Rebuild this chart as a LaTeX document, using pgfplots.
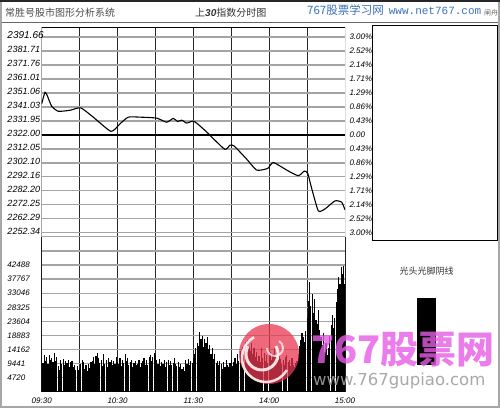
\documentclass[border=0pt]{standalone}
\usepackage{pgfplots}
\pgfplotsset{compat=1.18}
\usepackage{fontspec}
\setmainfont{Liberation Sans}
\newfontfamily\cjk{Noto Sans CJK SC}
\newfontfamily\mono{Liberation Mono}
\newfontfamily\dejavu{DejaVu Sans}
\definecolor{gridgray}{HTML}{A4A4A4}
\definecolor{wmblue}{HTML}{3A72B8}
\definecolor{wmpink}{HTML}{E65CE6}
\definecolor{logored}{HTML}{E8384F}
\begin{document}
\begin{tikzpicture}
\begin{scope}[x=1pt,y=1pt]
\useasboundingbox (0,0) rectangle (500,408);
\fill[white] (0,0) rectangle (500,408);
\draw[gray!70, line width=2pt] (1,1) rectangle (499,407);
\draw[black!85, line width=1.5pt] (0,407.2) -- (500,407.2);
\draw[gray!80!black, line width=1pt] (2,385.5) -- (498,385.5);
\node[anchor=west, inner sep=0pt, font=\cjk\fontsize{10}{12}\selectfont, text=black!70] at (5,395) {常胜号股市图形分析系统};
\node[anchor=west, inner sep=0pt, font=\fontsize{10}{12}\selectfont, text=black!80] at (195,395) {{\cjk 上}{\bfseries\itshape 30}{\cjk 指数分时图}};
\node[anchor=west, inner sep=0pt, font=\cjk\fontsize{7}{8}\selectfont, text=black!60] at (484,395) {闸舟};
\node[anchor=west, inner sep=0pt, text=wmblue] at (307,398) {{\cjk\fontsize{11.5}{12}\selectfont 767股票学习网}\hspace{5pt}{\mono\fontsize{11}{12}\selectfont www.net767.com}};
\draw[black, line width=0.8pt] (372.7,168) rectangle (497,382.3);
\node[inner sep=0pt, font=\cjk\fontsize{9}{10}\selectfont, text=black!80] at (426.5,137.3) {光头光脚阴线};
\end{scope}

% price panel
\begin{axis}[
  at={(41.7pt,171.3pt)}, anchor=south west, scale only axis,
  width=303.3pt, height=209pt,
  xmin=0, xmax=240, ymin=2249.49, ymax=2398.28,
  axis line style={draw=none},
  major tick length=0pt,
  grid=major,
  major x grid style={black!85, line width=0.8pt},
  major y grid style={gridgray, line width=1.4pt},
  xtick={30,60,...,210}, xticklabel=\empty,
  ytick={2252.34,2262.29,2272.24,2282.19,2292.14,2302.10,2312.05,2331.95,2341.90,2351.85,2361.80,2371.75,2381.70,2391.66},
  yticklabels={2252.34,2262.29,2272.25,2282.20,2292.16,2302.10,2312.05,2331.95,2341.03,2351.06,2361.01,2371.76,2381.71,{\fontsize{10}{12}\selectfont 2391.66}},
  extra y ticks={2322.00},
  extra y tick labels={2322.00},
  extra y tick style={major y grid style={black, line width=1.5pt}},
  yticklabel style={anchor=west, inner sep=0pt, xshift=-34.4pt, yshift=1.5pt, font=\fontsize{9}{10}\selectfont\itshape},
]
\addplot[black, line width=1.1pt, smooth, tension=0.35] coordinates {
(0,2344.1) (2.6,2352.3) (4.4,2349.9) (7.9,2342.4) (13.1,2338.8) (22.4,2339.5)
(30.9,2341.2) (40.8,2334.6) (54.8,2324.5) (62,2329.9) (68.5,2334.6) (77.8,2334.6)
(91,2333.9) (98.9,2331) (104.1,2333.7) (107.6,2331.5) (110.8,2332.5) (114.7,2330.4)
(119.5,2331.8) (122.6,2330.4) (130.6,2324) (135.8,2319.3) (145,2311.7) (149,2314.6)
(152.2,2314.1) (162.2,2304.7) (170.1,2296.9) (178.8,2298.1) (183.3,2302.3) (193.9,2296.9)
(203,2292.9) (207.8,2296.2) (210.5,2294.6) (213.6,2284) (218.9,2267.9) (224.2,2269.3)
(232.1,2275) (237.4,2274) (240,2268.6)};
\draw[black, line width=0.8pt] (rel axis cs:0,0) -- (rel axis cs:0,1) -- (rel axis cs:1,1) -- (rel axis cs:1,0);
\draw[gridgray, line width=1.4pt] (rel axis cs:0,0) -- (rel axis cs:1,0);
\end{axis}

% percent labels
\begin{axis}[
  at={(41.7pt,171.3pt)}, anchor=south west, scale only axis,
  width=303.3pt, height=209pt,
  xmin=0, xmax=240, ymin=2249.49, ymax=2398.28,
  axis line style={draw=none}, major tick length=0pt,
  xtick=\empty, yticklabel pos=right,
  ytick={2252.34,2262.29,2272.24,2282.19,2292.14,2302.10,2312.05,2322.00,2331.95,2341.90,2351.85,2361.80,2371.75,2381.70,2391.66},
  yticklabels={3.00\%,2.52\%,2.14\%,1.71\%,1.29\%,0.86\%,0.43\%,0.00,0.43\%,0.86\%,1.29\%,1.71\%,2.14\%,2.52\%,3.00\%},
  yticklabel style={anchor=west, inner sep=0pt, xshift=4.3pt, font=\fontsize{8}{9}\selectfont\itshape},
]
\end{axis}

% volume panel
\begin{axis}[
  at={(41.7pt,16.3pt)}, anchor=south west, scale only axis,
  width=303.3pt, height=155pt,
  xmin=0, xmax=240, ymin=0, ymax=52007,
  scaled y ticks=false,
  axis line style={draw=none},
  major tick length=0pt,
  grid=major,
  major x grid style={black!85, line width=0.8pt},
  major y grid style={gridgray, line width=1.4pt},
  xtick={0,30,...,240},
  xticklabels={09:30,,10:30,,11:30,,{14:00\hspace{4pt}},,{15:00\hspace{14pt}}},
  xticklabel style={anchor=north, inner sep=0pt, yshift=-6pt, font=\fontsize{8}{9}\selectfont\itshape},
  ytick={4720.9,9441.8,14162.7,18883.6,23604.5,28325.4,33046.3,37767.2,42488.1,47209},
  yticklabels={4720,9441,14162,18883,23604,28325,33046,37767,42488,{}},
  yticklabel style={anchor=west, inner sep=0pt, xshift=-34.4pt, font=\fontsize{8}{9}\selectfont\itshape},
]
\addplot[ycomb, black, line width=1.15pt, mark=none] coordinates {
(0,11800)(1,9600)(2,12200)(3,10400)(4,11600)(5,9200)(6,12400)(7,10800)(8,11400)(9,9800)
(10,13000)(11,10200)(12,11800)(13,8600)(14,7400)(15,10800)(16,9400)(17,11000)(18,8800)(19,10200)
(20,9600)(21,10800)(22,8400)(23,9800)(24,10400)(25,8200)(26,9000)(27,7400)(28,8600)(29,7200)
(30,8000)(31,9200)(32,10600)(33,9800)(34,7600)(35,8800)(36,6800)(37,9400)(38,7800)(39,9800)
(40,10400)(41,11600)(42,9200)(43,12000)(44,13000)(45,11200)(46,9600)(47,10800)(48,8600)(49,12600)
(50,9400)(51,10600)(52,8200)(53,11400)(54,9800)(55,10800)(56,8800)(57,10200)(58,9200)(59,11800)
(60,10000)(61,9200)(62,11400)(63,8600)(64,10800)(65,9600)(66,12600)(67,10200)(68,11400)(69,8800)
(70,9800)(71,10600)(72,8400)(73,9600)(74,10200)(75,8800)(76,9400)(77,10800)(78,8200)(79,9600)
(80,10400)(81,11200)(82,9000)(83,10600)(84,8800)(85,11600)(86,12200)(87,10400)(88,11800)(89,13000)
(90,12200)(91,10600)(92,9400)(93,11000)(94,8600)(95,10000)(96,9200)(97,10800)(98,8400)(99,9800)
(100,10600)(101,9000)(102,10200)(103,8800)(104,9600)(105,11200)(106,9400)(107,8600)(108,10000)(109,8200)
(110,9200)(111,7600)(112,8400)(113,7000)(114,10600)(115,9400)(116,11000)(117,8800)(118,10200)(119,9600)
(120,11400)(121,12800)(122,14600)(123,16200)(124,15400)(125,20000)(126,17600)(127,18800)(128,15000)(129,17800)
(130,16400)(131,18200)(132,14200)(133,15600)(134,12600)(135,14800)(136,11000)(137,12800)(138,9600)(139,10400)
(140,8800)(141,10200)(142,9400)(143,7600)(144,9800)(145,8200)(146,10600)(147,9000)(148,8400)(149,9600)
(150,10800)(151,8600)(152,9800)(153,11200)(154,9400)(155,12600)(156,10400)(157,13800)(158,11800)(159,15000)
(160,13400)(161,16800)(162,14200)(163,17200)(164,15400)(165,13600)(166,16200)(167,12800)(168,14800)(169,11600)
(170,13200)(171,10400)(172,12000)(173,9800)(174,14600)(175,11400)(176,13000)(177,10200)(178,12400)(179,9600)
(180,11800)(181,13400)(182,10600)(183,12800)(184,14800)(185,11600)(186,13600)(187,10800)(188,12200)(189,11000)
(190,9400)(191,10800)(192,8800)(193,11600)(194,12400)(195,9800)(196,10600)(197,8600)(198,11200)(199,9000)
(200,8400)(201,9600)(202,10400)(203,12600)(204,15400)(205,17400)(206,19600)(207,18200)(208,16800)(209,20400)
(210,24800)(211,30400)(212,36800)(213,28600)(214,32800)(215,26400)(216,31000)(217,24200)(218,22600)(219,27400)
(220,20800)(221,18400)(222,15800)(223,19600)(224,13200)(225,16400)(226,12200)(227,14600)(228,18800)(229,22400)
(230,25800)(231,21400)(232,24600)(233,30200)(234,34600)(235,38400)(236,36200)(237,41800)(238,39600)(239,42200)
(240,36000)};
\draw[black, line width=0.8pt] (rel axis cs:0,1) -- (rel axis cs:0,0) -- (rel axis cs:1,0) -- (rel axis cs:1,1);
\end{axis}

% candle icon
\begin{axis}[
  at={(416.7pt,43pt)}, anchor=south west, scale only axis,
  width=19.3pt, height=66.7pt, hide axis,
  xmin=0, xmax=1, ymin=0, ymax=1,
]
\addplot[fill=black, draw=none] coordinates {(0,0) (0,1) (1,1) (1,0)} --cycle;
\end{axis}

% watermarks
\begin{scope}[x=1pt,y=1pt]
\fill[logored, opacity=0.75] (269,54) circle (30);
\draw[white, opacity=0.85, line width=3pt] (262,54) ++(150:16) arc (150:390:16);
\draw[white, opacity=0.85, line width=2.5pt] (266,50) ++(120:24) arc (120:330:24);
\draw[white, opacity=0.7, line width=2pt] (275,60) ++(180:8) arc (180:420:8);
\node[anchor=west, inner sep=0pt, font=\cjk\bfseries\fontsize{38}{40}\selectfont, text=wmpink, opacity=0.8] at (311,58) {767股票网};
\node[anchor=base west, inner sep=0pt, font=\dejavu\fontsize{16.5}{18}\selectfont, text=gray!75, opacity=0.9] at (313,23) {www.767gupiao.com};
\end{scope}
\end{tikzpicture}
\end{document}
